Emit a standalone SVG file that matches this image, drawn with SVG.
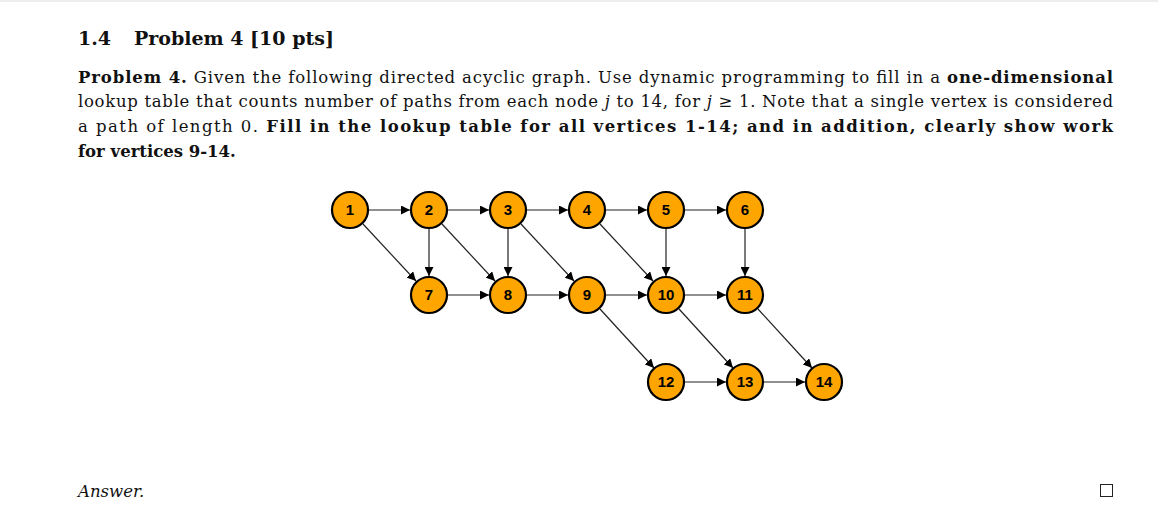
<svg xmlns="http://www.w3.org/2000/svg" width="1158" height="507" viewBox="0 0 1158 507">
<style>
.t{font-family:"DejaVu Serif","Liberation Serif",serif;font-size:16.5px;fill:#111}
.b{font-weight:bold}
.n circle{fill:#FFA500;stroke:#000;stroke-width:2.2}
.n text{font-family:"Liberation Sans",Arial,sans-serif;font-weight:bold;font-size:15px;text-anchor:middle;fill:#000}
#edges line{stroke:#222;stroke-width:1.2;marker-end:url(#ah)}
</style>
<defs><marker id="ah" viewBox="0 0 10 10" refX="10" refY="5" markerWidth="9" markerHeight="9" markerUnits="userSpaceOnUse" orient="auto"><path d="M0,0 L10,5 L0,10z" fill="#000"/></marker></defs>
<rect width="1158" height="507" fill="#fff"/>
<line x1="0" y1="1" x2="1158" y2="1" stroke="#ddd"/>
<text class="t b" x="78" y="45" style="font-size:19px">1.4 <tspan x="134">Problem 4 [10 pts]</tspan></text>
<text class="t" x="78" y="83" textLength="1035" lengthAdjust="spacing"><tspan class="b">Problem 4.</tspan> Given the following directed acyclic graph. Use dynamic programming to fill in a <tspan class="b">one-dimensional</tspan></text>
<text class="t" x="78" y="107" textLength="1035" lengthAdjust="spacing">lookup table that counts number of paths from each node <tspan font-style="italic">j</tspan> to 14, for <tspan font-style="italic">j</tspan> ≥ 1. Note that a single vertex is considered</text>
<text class="t" x="78" y="132" textLength="1035" lengthAdjust="spacing">a path of length 0. <tspan class="b">Fill in the lookup table for all vertices 1-14; and in addition, clearly show work</tspan></text>
<text class="t b" x="78" y="157">for vertices 9-14.</text>
<text class="t" x="78" y="497" font-style="italic">Answer.</text>
<rect x="1100.5" y="484.5" width="12" height="12" fill="none" stroke="#222"/>
<g id="edges">
<line x1="369" y1="210" x2="410" y2="210"/><line x1="448" y1="210" x2="489" y2="210"/><line x1="527" y1="210" x2="568" y2="210"/><line x1="606" y1="210" x2="647" y2="210"/><line x1="685" y1="210" x2="726" y2="210"/>
<line x1="429" y1="229" x2="429" y2="276"/><line x1="508" y1="229" x2="508" y2="276"/><line x1="666" y1="229" x2="666" y2="276"/><line x1="745" y1="229" x2="745" y2="276"/>
<line x1="363" y1="224" x2="416" y2="281"/><line x1="442" y1="224" x2="495" y2="281"/><line x1="521" y1="224" x2="574" y2="281"/><line x1="600" y1="224" x2="653" y2="281"/>
<line x1="448" y1="295" x2="489" y2="295"/><line x1="527" y1="295" x2="568" y2="295"/><line x1="606" y1="295" x2="647" y2="295"/><line x1="685" y1="295" x2="726" y2="295"/>
<line x1="600" y1="309" x2="654" y2="368"/><line x1="679" y1="309" x2="733" y2="368"/><line x1="758" y1="309" x2="812" y2="368"/>
<line x1="685" y1="382" x2="726" y2="382"/><line x1="764" y1="382" x2="805" y2="382"/>
</g>
<g id="n1" class="n"><circle cx="350" cy="210" r="18"/><text x="350" y="215">1</text></g>
<g id="n2" class="n"><circle cx="429" cy="210" r="18"/><text x="429" y="215">2</text></g>
<g id="n3" class="n"><circle cx="508" cy="210" r="18"/><text x="508" y="215">3</text></g>
<g id="n4" class="n"><circle cx="587" cy="210" r="18"/><text x="587" y="215">4</text></g>
<g id="n5" class="n"><circle cx="666" cy="210" r="18"/><text x="666" y="215">5</text></g>
<g id="n6" class="n"><circle cx="745" cy="210" r="18"/><text x="745" y="215">6</text></g>
<g id="n7" class="n"><circle cx="429" cy="295" r="18"/><text x="429" y="300">7</text></g>
<g id="n8" class="n"><circle cx="508" cy="295" r="18"/><text x="508" y="300">8</text></g>
<g id="n9" class="n"><circle cx="587" cy="295" r="18"/><text x="587" y="300">9</text></g>
<g id="n10" class="n"><circle cx="666" cy="295" r="18"/><text x="666" y="300">10</text></g>
<g id="n11" class="n"><circle cx="745" cy="295" r="18"/><text x="745" y="300">11</text></g>
<g id="n12" class="n"><circle cx="666" cy="382" r="18"/><text x="666" y="387">12</text></g>
<g id="n13" class="n"><circle cx="745" cy="382" r="18"/><text x="745" y="387">13</text></g>
<g id="n14" class="n"><circle cx="824" cy="382" r="18"/><text x="824" y="387">14</text></g>
</svg>
